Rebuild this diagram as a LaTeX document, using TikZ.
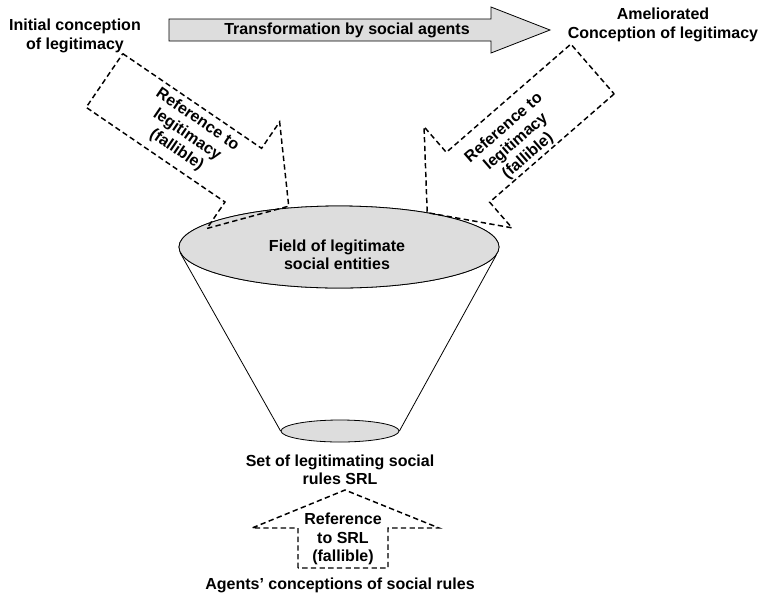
\documentclass[tikz,border=0pt]{standalone}
\usepackage{fontspec}
\setmainfont{Liberation Sans}
\usepackage{tikz}
\usetikzlibrary{shapes,positioning,calc}
\definecolor{fillgray}{HTML}{DDDDDD}

\tikzset{
    lbl/.style={align=center, inner sep=0pt, font=\bfseries\fontsize{12}{13.8}\selectfont},
    refarrow/.style={draw, dashed, line width=1.1pt, dash pattern=on 4pt off 2.5pt, line join=miter},
    blockarrow/.style={draw, fill=fillgray, line width=0.6pt},
    field/.style={ellipse, draw, fill=fillgray, line width=0.6pt, inner sep=0pt}
}

\begin{document}
\begin{tikzpicture}[x=0.75pt, y=-0.75pt]
    \useasboundingbox (0,0) rectangle (760,597);

    % funnel
    \node[field, minimum width=240pt, minimum height=61.5pt] (big) at (339,247) {};
    \node[field, minimum width=88.5pt, minimum height=16.5pt] (small) at (340,431) {};
    \draw[line width=0.6pt] (big.182) -- (small.west);
    \draw[line width=0.6pt] (big.-3) -- (small.east);
    \node[field, minimum width=240pt, minimum height=61.5pt] at (big) {};
    \node[lbl] (fieldtxt) at (337,255) {Field of legitimate\\social entities};
    \node[lbl] (srl) at (340,470) {Set of legitimating social\\rules SRL};

    % top labels and transformation arrow
    \node[lbl] (init) at (75,36) {Initial conception\\of legitimacy};
    \node[lbl] (amel) at (663,25) {Ameliorated\\Conception of legitimacy};
    \draw[blockarrow] (169,19) -- (491,19) -- (491,7) -- (550,30) -- (491,53) -- (491,41) -- (169,41) -- cycle;
    \node[lbl] (trans) at (347,30) {Transformation by social agents};

    % reference arrows
    \begin{scope}[shift={(104.5,80.5)}, rotate=-34.3]
        \draw[refarrow] (0,-32.5) -- (168,-32.5) -- (168,-64.5) -- (223,0) -- (168,64.5) -- (168,32.5) -- (0,32.5) -- cycle;
    \end{scope}
    \node[lbl, rotate=-34.3] (refleft) at (187,135) {Reference to\\legitimacy\\(fallible)};

    \begin{scope}[shift={(592.5,69)}, rotate=-139]
        \draw[refarrow] (0,-33) -- (165,-33) -- (165,-67) -- (219,0) -- (165,67) -- (165,33) -- (0,33) -- cycle;
    \end{scope}
    \node[lbl, rotate=41] (refright) at (516,142) {Reference to\\legitimacy\\(fallible)};

    \draw[refarrow] (298,568) -- (298,528) -- (252,528) -- (345,490) -- (439,528) -- (388,528) -- (388,568) -- cycle;
    \node[lbl] (refsrl) at (343,539) {Reference\\to SRL\\(fallible)};
    \node[lbl] (agents) at (340,585) {Agents’ conceptions of social rules};
\end{tikzpicture}
\end{document}
